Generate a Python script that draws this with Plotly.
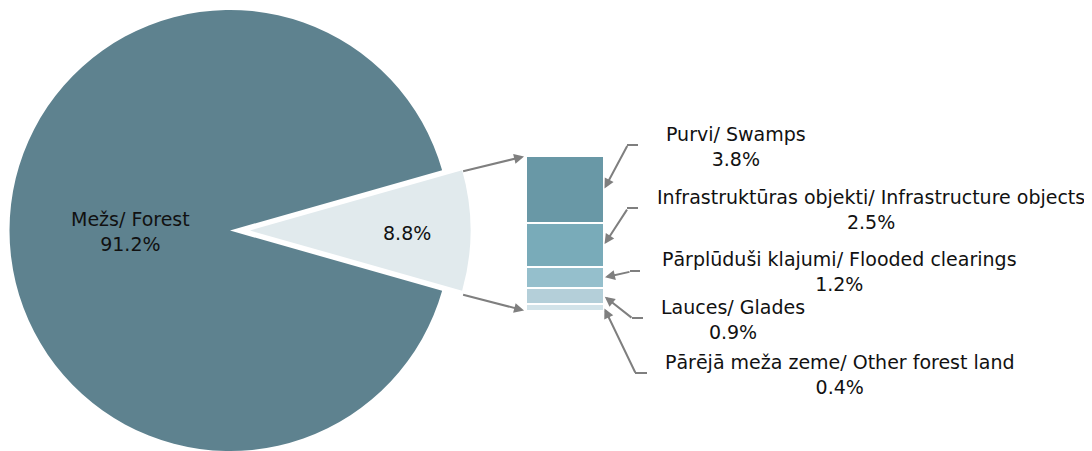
import math
import plotly.graph_objects as go

# ---------------- data ----------------
pie_labels = ["Citas/ Other", "Mežs/ Forest"]
pie_values = [8.8, 91.2]

bar_labels = [
    "Purvi/ Swamps",
    "Infrastruktūras objekti/ Infrastructure objects",
    "Pārplūduši klajumi/ Flooded clearings",
    "Lauces/ Glades",
    "Pārējā meža zeme/ Other forest land",
]
bar_values = [3.8, 2.5, 1.2, 0.9, 0.4]

# ---------------- styles ----------------
OFF = 8                      # default page (body) margin
PW, PH = 1092, 451           # page size
W, H = PW - 2 * OFF, PH - OFF  # figure size
FONT = "DejaVu Sans"
FS = 19
FOREST_C = "#5e828f"
SLICE_C = "#e1eaed"
BAR_COLORS = ["#6998a6", "#79abb9", "#95bfcc", "#b4cfd9", "#d2e3e9"]
ARROW_C = "#7f7f7f"

# pie geometry (page pixels)
R = 221.0
CX, CY = 230.0, 231.0
PULL_PX = 20.0

# bar geometry (page pixels)
BX0, BX1 = 527.0, 603.0
BY_TOP, BY_BOT = 157.0, 310.0


def fx(x):
    return (x - OFF) / W


def fy(y):
    return (H - (y - OFF)) / H


fig = go.Figure()

rot = 90 - pie_values[0] / sum(pie_values) * 180
pie_y = [max(0.0, fy(CY + R)), fy(CY - R)]
# main pie (forest slice)
fig.add_trace(go.Pie(
    labels=pie_labels, values=pie_values, sort=False, direction="clockwise", rotation=rot,
    marker=dict(colors=["rgba(0,0,0,0)", FOREST_C], line=dict(width=0)),
    textinfo="none", hoverinfo="skip", showlegend=False,
    domain=dict(x=[fx(CX - R), fx(CX + R)], y=pie_y),
))
# exploded small slice
fig.add_trace(go.Pie(
    labels=pie_labels, values=pie_values, sort=False, direction="clockwise", rotation=rot,
    marker=dict(colors=[SLICE_C, "rgba(0,0,0,0)"], line=dict(width=0)),
    textinfo="none", hoverinfo="skip", showlegend=False,
    domain=dict(x=[fx(CX + PULL_PX - R), fx(CX + PULL_PX + R)], y=pie_y),
))

# stacked bar (bottom to top)
for lab, val, col in reversed(list(zip(bar_labels, bar_values, BAR_COLORS))):
    fig.add_trace(go.Bar(
        x=[0], y=[val], width=1, name=lab,
        marker=dict(color=col, line=dict(color="white", width=2)),
        hoverinfo="skip", showlegend=False,
    ))

total = sum(bar_values)
scale = (BY_BOT - BY_TOP) / total


def bar_y_px(v):
    return BY_BOT - v * scale


annotations = []
shapes = []
txtfont = dict(family=FONT, size=FS, color="#111")

# pie labels
annotations.append(dict(x=fx(130), y=fy(231), xref="paper", yref="paper", showarrow=False,
                        xanchor="center", yanchor="middle",
                        text=f"{pie_labels[1]}<br>{pie_values[1]:.1f}%", font=txtfont))
annotations.append(dict(x=fx(407), y=fy(233), xref="paper", yref="paper", showarrow=False,
                        xanchor="center", yanchor="middle",
                        text=f"{pie_values[0]:.1f}%", font=txtfont))

# connector arrows from exploded slice to bar
half = pie_values[0] / sum(pie_values) * math.pi
for sign, ytip in [(-1, total), (1, 0)]:
    tail_x = CX + PULL_PX + R * math.cos(half)
    tail_y = CY + 2 + sign * R * math.sin(half)
    tip_x, tip_y = BX0, bar_y_px(ytip)
    annotations.append(dict(
        x=-0.5, y=ytip, xref="x", yref="y", showarrow=True,
        ax=tail_x - tip_x, ay=tail_y - tip_y, text="",
        arrowhead=2, arrowsize=1, arrowwidth=2, arrowcolor=ARROW_C, standoff=2,
    ))

# labels with elbow connectors
label_pos = [(736, 146.5), (871, 209), (839, 271.5), (733, 319), (840, 374)]
elbows = [(627, 145, 638), (627, 208, 638), (630, 271, 640), (632, 318, 643), (635, 373, 647)]
cum_top = total
for i, (lab, val) in enumerate(zip(bar_labels, bar_values)):
    mid = cum_top - val / 2
    cum_top -= val
    lx, ly = label_pos[i]
    annotations.append(dict(x=fx(lx), y=fy(ly), xref="paper", yref="paper", showarrow=False,
                            xanchor="center", yanchor="middle", align="center",
                            text=f"{lab}<br>{val:.1f}%", font=txtfont))
    ex, ey, hx = elbows[i]
    tip_x, tip_y = BX1, bar_y_px(mid)
    annotations.append(dict(
        x=0.5, y=mid, xref="x", yref="y", showarrow=True,
        ax=ex - tip_x, ay=ey - tip_y, text="",
        arrowhead=2, arrowsize=1, arrowwidth=2, arrowcolor=ARROW_C, standoff=1,
    ))
    shapes.append(dict(type="line", xref="paper", yref="paper",
                       x0=fx(ex), y0=fy(ey), x1=fx(hx), y1=fy(ey),
                       line=dict(color=ARROW_C, width=2)))

fig.update_layout(
    width=W, height=H, margin=dict(l=0, r=0, t=0, b=0),
    paper_bgcolor="white", plot_bgcolor="white",
    barmode="stack", bargap=0,
    xaxis=dict(domain=[fx(BX0 - 1), fx(BX1 + 1)], range=[-0.5, 0.5], visible=False, fixedrange=True),
    yaxis=dict(domain=[fy(BY_BOT + 1), fy(BY_TOP - 1)], range=[0, total], visible=False, fixedrange=True),
    annotations=annotations, shapes=shapes,
    font=dict(family=FONT, size=FS),
)

fig.write_html("out.html")
